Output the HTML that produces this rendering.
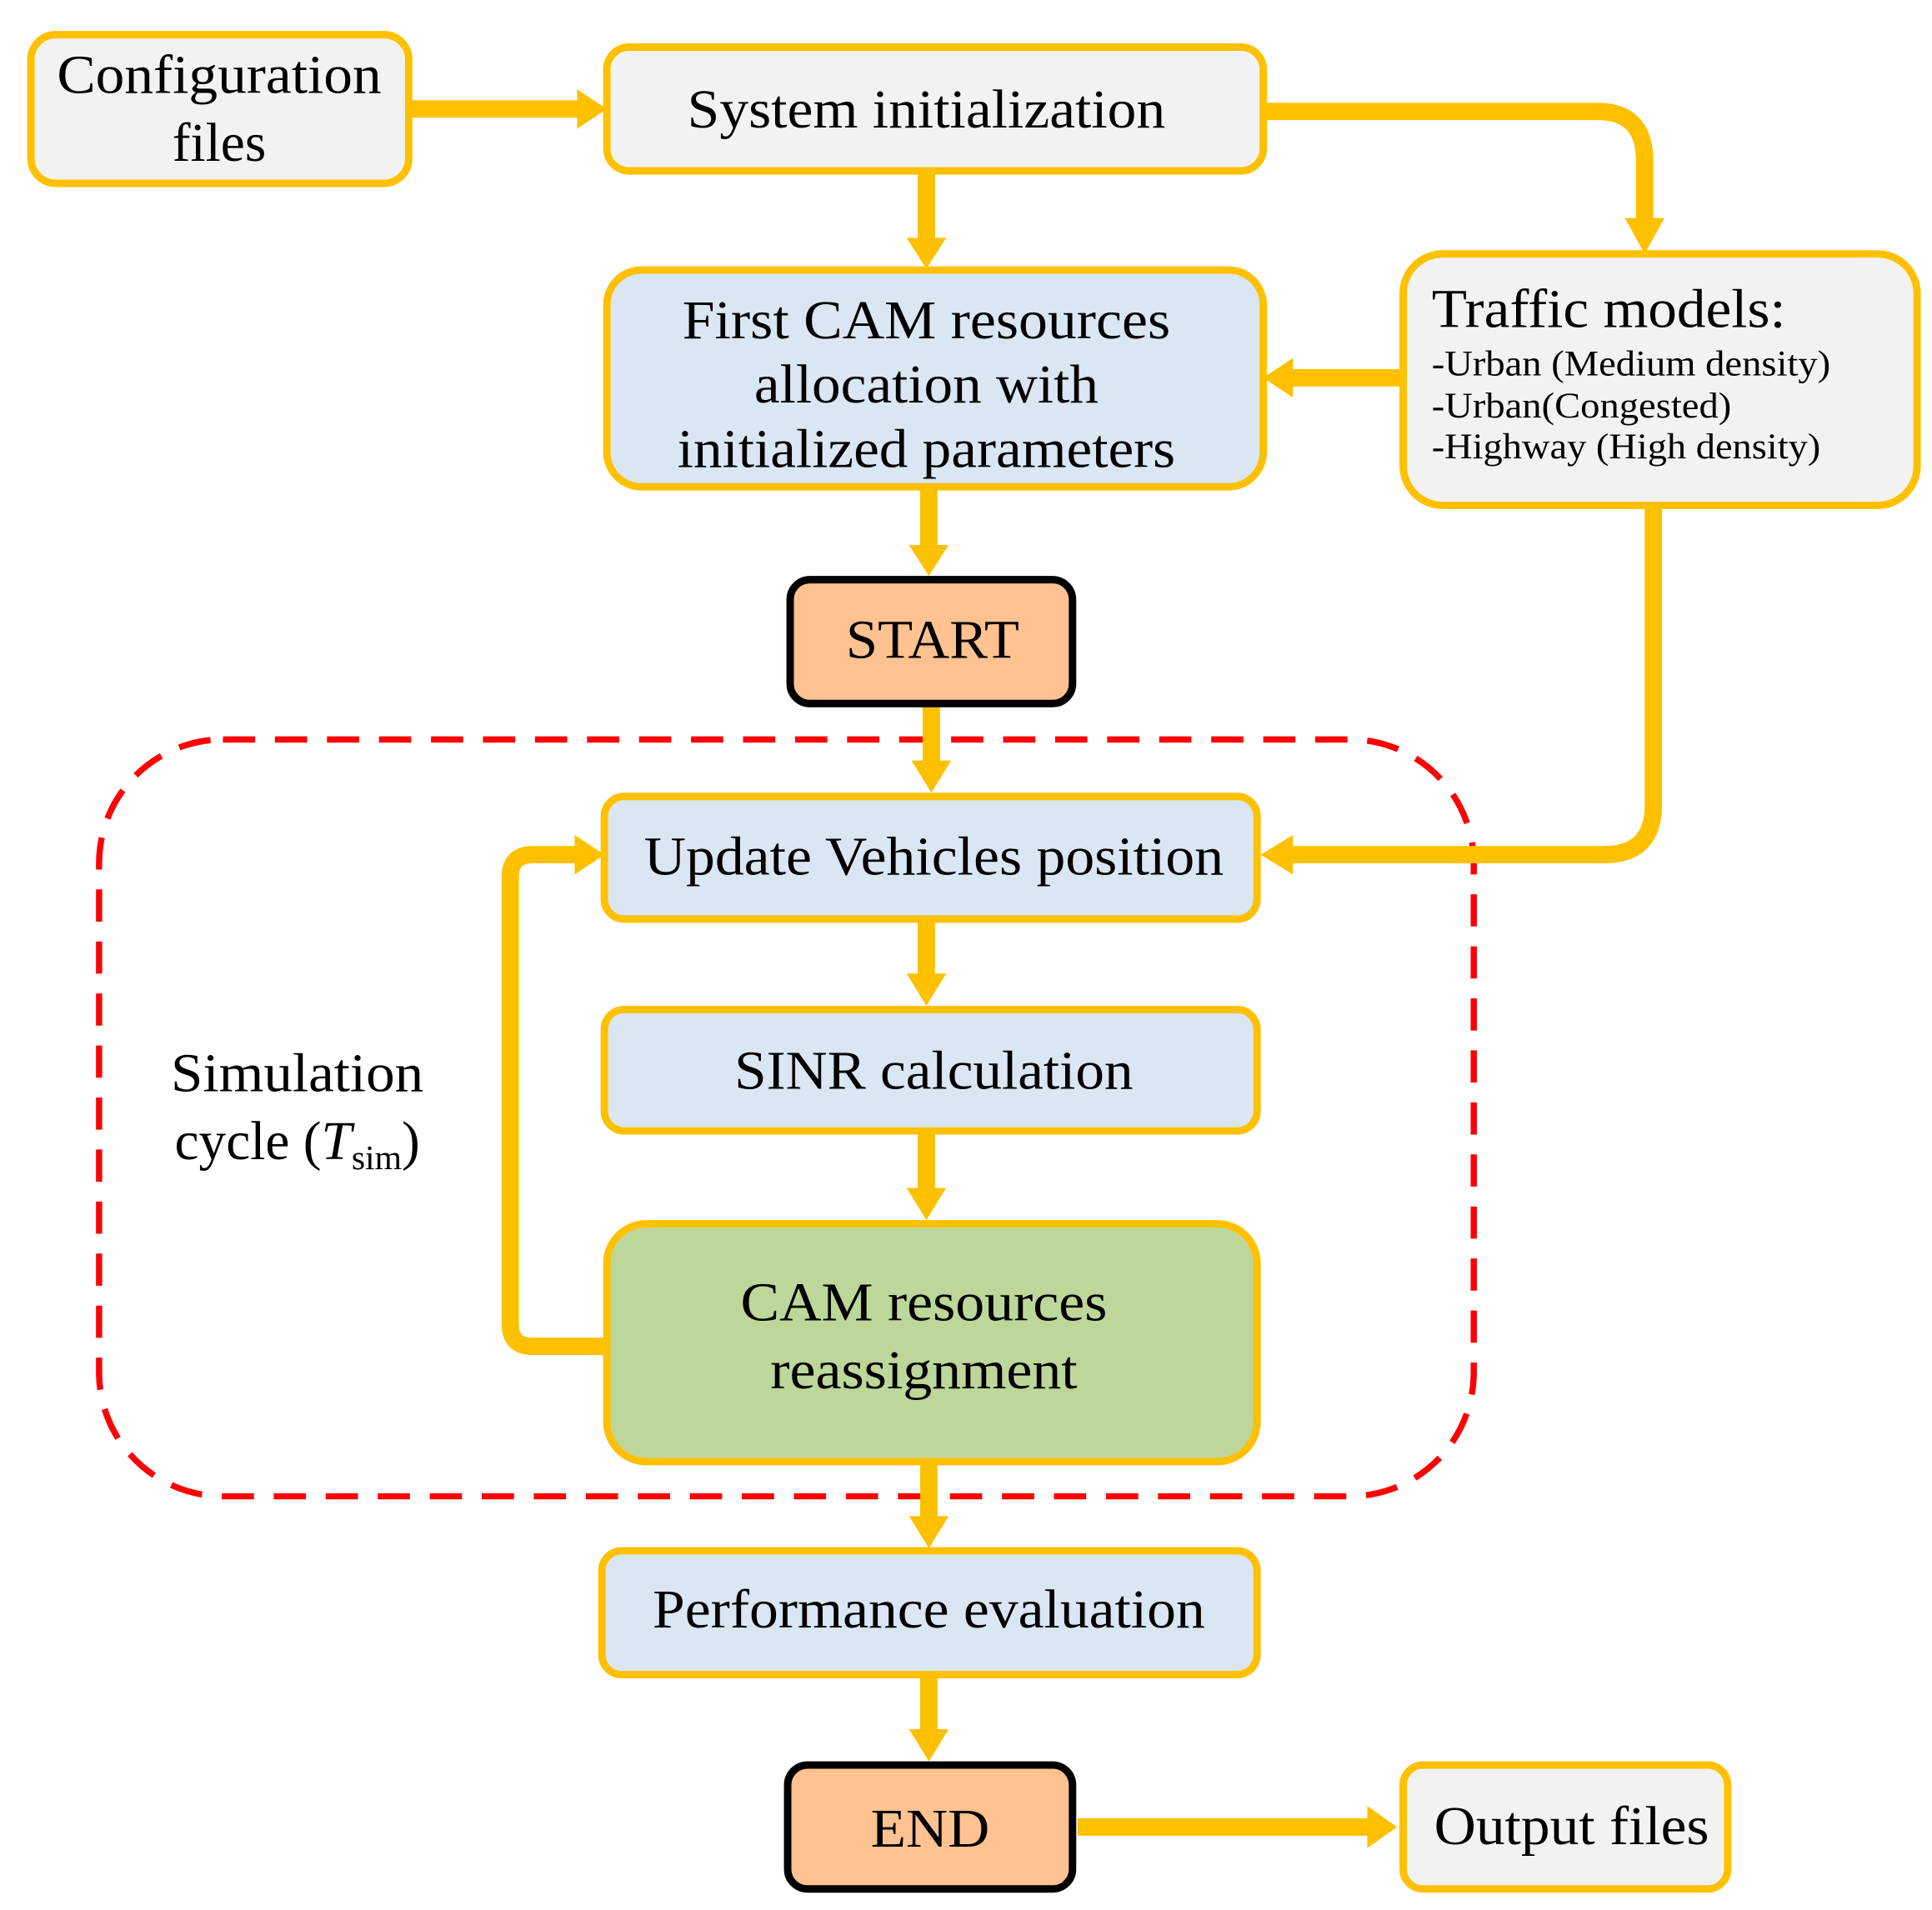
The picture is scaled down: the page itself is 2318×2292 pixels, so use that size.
<!DOCTYPE html>
<html><head><meta charset="utf-8"><style>html,body{margin:0;padding:0;background:#fff}svg{display:block}</style></head>
<body>
<svg width="2318" height="2292" viewBox="0 0 1560 1542" preserveAspectRatio="none" xmlns="http://www.w3.org/2000/svg" font-family="'Liberation Serif', serif" fill="#000">
<defs>
<marker id="ah" markerWidth="10" markerHeight="10" refX="6" refY="5" orient="auto" markerUnits="userSpaceOnUse" viewBox="0 0 10 10"></marker>
</defs>
<!-- dashed loop region -->
<rect x="80" y="597" width="1110" height="611" rx="100" fill="none" stroke="#FF0000" stroke-width="5" stroke-dasharray="26,16"/>

<g stroke="#FFC000" stroke-width="14" fill="none">
<line x1="330" y1="88" x2="470" y2="88"/>
<path d="M1020 90 H1290 Q1328 90 1328 130 V180"/>
<line x1="748" y1="140" x2="748" y2="195"/>
<line x1="1133" y1="305" x2="1040" y2="305"/>
<line x1="750" y1="393" x2="750" y2="443"/>
<line x1="752" y1="568" x2="752" y2="618"/>
<path d="M1335 408 V650 Q1335 690 1295 690 H1040"/>
<line x1="748" y1="742" x2="748" y2="790"/>
<line x1="748" y1="913" x2="748" y2="963"/>
<path d="M490 1087 H430 Q412 1087 412 1069 V708 Q412 690 430 690 H468"/>
<line x1="750" y1="1180" x2="750" y2="1228"/>
<line x1="750" y1="1352" x2="750" y2="1400"/>
<line x1="870" y1="1475" x2="1108" y2="1475"/>
</g>
<g fill="#FFC000">
<polygon points="466,72 490,88 466,104"/>
<polygon points="1312,176 1344,176 1328,205"/>
<polygon points="732,192 764,192 748,217"/>
<polygon points="1044,289 1044,321 1020,305"/>
<polygon points="734,440 766,440 750,465"/>
<polygon points="736,614 768,614 752,640"/>
<polygon points="1044,674 1044,706 1018,690"/>
<polygon points="732,786 764,786 748,812"/>
<polygon points="732,959 764,959 748,985"/>
<polygon points="464,674 488,690 464,706"/>
<polygon points="734,1224 766,1224 750,1250"/>
<polygon points="734,1396 766,1396 750,1422"/>
<polygon points="1104,1458 1128,1475 1104,1492"/>
</g>

<g stroke="#FFC000" stroke-width="6">
<rect x="25" y="28" width="305" height="120" rx="20" fill="#F2F2F2"/>
<rect x="490" y="38" width="530" height="100" rx="18" fill="#F2F2F2"/>
<rect x="490" y="218" width="530" height="175" rx="28" fill="#DAE6F1"/>
<rect x="1133" y="205" width="415" height="203" rx="32" fill="#F2F2F2"/>
<rect x="488" y="643" width="527" height="99" rx="16" fill="#DAE6F1"/>
<rect x="488" y="815" width="527" height="98" rx="16" fill="#DAE6F1"/>
<rect x="490" y="988" width="525" height="192" rx="32" fill="#BDD79A"/>
<rect x="486" y="1252" width="529" height="100" rx="16" fill="#DAE6F1"/>
<rect x="1133" y="1425" width="262" height="100" rx="16" fill="#F2F2F2"/>
</g>
<g stroke="#000" stroke-width="6" fill="#FFC290">
<rect x="638" y="468" width="228" height="100" rx="16"/>
<rect x="636" y="1425" width="230" height="100" rx="16"/>
</g>

<g font-size="44" text-anchor="middle">
<text x="177" y="75" textLength="262" lengthAdjust="spacingAndGlyphs">Configuration</text>
<text x="177" y="130">files</text>
<text x="748" y="103" textLength="386" lengthAdjust="spacingAndGlyphs">System initialization</text>
<text x="748" y="273" textLength="394" lengthAdjust="spacingAndGlyphs">First CAM resources</text>
<text x="748" y="325" textLength="278" lengthAdjust="spacingAndGlyphs">allocation with</text>
<text x="748" y="377" textLength="402" lengthAdjust="spacingAndGlyphs">initialized parameters</text>
<text x="753" y="531" textLength="140" lengthAdjust="spacingAndGlyphs">START</text>
<text x="754" y="706" textLength="468" lengthAdjust="spacingAndGlyphs">Update Vehicles position</text>
<text x="754" y="879" textLength="322" lengthAdjust="spacingAndGlyphs">SINR calculation</text>
<text x="746" y="1066" textLength="296" lengthAdjust="spacingAndGlyphs">CAM resources</text>
<text x="746" y="1121" textLength="248" lengthAdjust="spacingAndGlyphs">reassignment</text>
<text x="750" y="1314" textLength="446" lengthAdjust="spacingAndGlyphs">Performance evaluation</text>
<text x="751" y="1491" textLength="96" lengthAdjust="spacingAndGlyphs">END</text>
<text x="1269" y="1489" textLength="222" lengthAdjust="spacingAndGlyphs">Output files</text>
<text x="240" y="881" textLength="204" lengthAdjust="spacingAndGlyphs">Simulation</text>
<text x="240" y="936"><tspan>cycle (</tspan><tspan font-style="italic">T</tspan><tspan font-size="28" dy="8">sim</tspan><tspan dy="-8">)</tspan></text>
</g>
<text x="1156" y="264" font-size="44" textLength="286" lengthAdjust="spacingAndGlyphs">Traffic models:</text>
<g font-size="29">
<text x="1156" y="303" textLength="322" lengthAdjust="spacingAndGlyphs">-Urban (Medium density)</text>
<text x="1156" y="337" textLength="242" lengthAdjust="spacingAndGlyphs">-Urban(Congested)</text>
<text x="1156" y="370" textLength="314" lengthAdjust="spacingAndGlyphs">-Highway (High density)</text>
</g>
</svg>
</body></html>
